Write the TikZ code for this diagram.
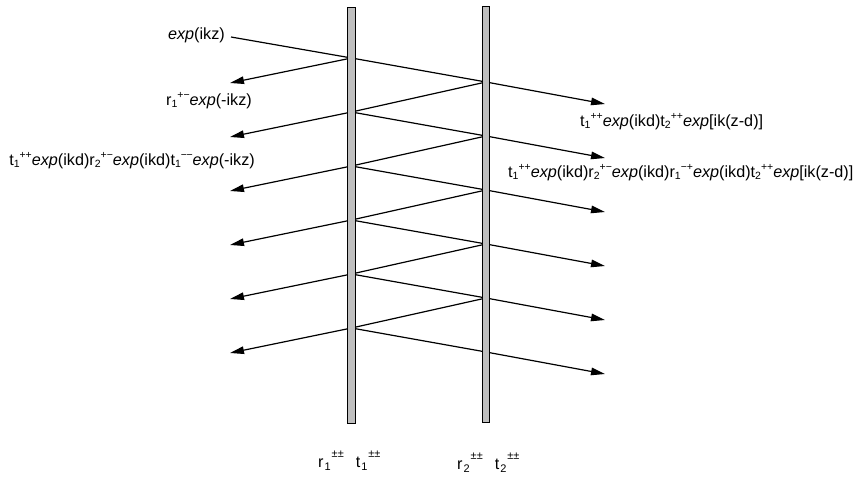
\documentclass[tikz,border=0pt]{standalone}
\usepackage{fontspec}
\setmainfont{Liberation Sans}
\usetikzlibrary{arrows.meta}
\newcommand\sx[3]{#1\raisebox{-2.7pt}{\fontsize{10.5}{10.5}\selectfont #2}\raisebox{7pt}{\fontsize{10.5}{10.5}\selectfont #3}}
\newcommand\sy[3]{#1\kern1pt\raisebox{-3.5pt}{\fontsize{11}{11}\selectfont #2}\kern1pt\raisebox{10pt}{\fontsize{11}{11}\selectfont #3}}
\newcommand\ex{\textit{exp}}
\begin{document}
\begin{tikzpicture}[x=1pt,y=-1pt,
  ray/.style={line width=1.2pt},
  arr/.style={ray,-{Triangle[length=14pt,width=7.5pt]}},
  slab/.style={draw=black,line width=0.9pt,fill=gray!50,minimum width=7.5pt,inner sep=0pt},
  lab/.style={inner sep=0pt,font=\fontsize{16.2}{19}\selectfont}]
\useasboundingbox (0,0) rectangle (856,479);
\coordinate (S) at (231,37);
\foreach \i in {1,...,6}{
  \pgfmathsetmacro\ya{58+54*(\i-1)}
  \pgfmathsetmacro\yb{82+54*(\i-1)}
  \coordinate (p\i) at (351.5,\ya);
  \coordinate (q\i) at (486,\yb);
  \coordinate (L\i) at (230,\ya+25);
  \coordinate (R\i) at (605,\yb+22);
}
\draw[ray] (S) -- (p1);
\foreach \i in {1,...,6}{
  \draw[arr] (p\i) -- (L\i);
  \draw[ray] (p\i) -- (q\i);
  \draw[arr] (q\i) -- (R\i);
}
\foreach \i [evaluate=\i as \j using int(\i+1)] in {1,...,5}{
  \draw[ray] (q\i) -- (p\j);
}
\node[slab,minimum height=415.5pt,anchor=north] (s1) at (351.5,7) {};
\node[slab,minimum height=416.3pt,anchor=north] (s2) at (486,5.7) {};
\node[lab,anchor=base east] (t0) at (225,39) {\ex(ikz)};
\node[lab,anchor=base east] (t1) at (252,105) {\sx{r}{1}{+−}\ex(-ikz)};
\node[lab,anchor=base east] (t2) at (255,165) {\sx{t}{1}{++}\ex(ikd)\sx{r}{2}{+−}\ex(ikd)\sx{t}{1}{−\kern-0.5pt−}\ex(-ikz)};
\node[lab,anchor=base west] (t3) at (580,126) {\sx{t}{1}{++}\ex(ikd)\sx{t}{2}{++}\ex[ik(z-d)]};
\node[lab,anchor=base west] (t4) at (508,177) {\sx{t}{1}{++}\ex(ikd)\sx{r}{2}{+−}\ex(ikd)\sx{r}{1}{−+}\ex(ikd)\sx{t}{2}{++}\ex[ik(z-d)]};
\node[lab,anchor=base west] (b1) at (318,467) {\sy{r}{1}{±±}\hspace{12pt}\sy{t}{1}{±±}};
\node[lab,anchor=base west] (b2) at (457,469) {\sy{r}{2}{±±}\hspace{12pt}\sy{t}{2}{±±}};
\end{tikzpicture}
\end{document}
